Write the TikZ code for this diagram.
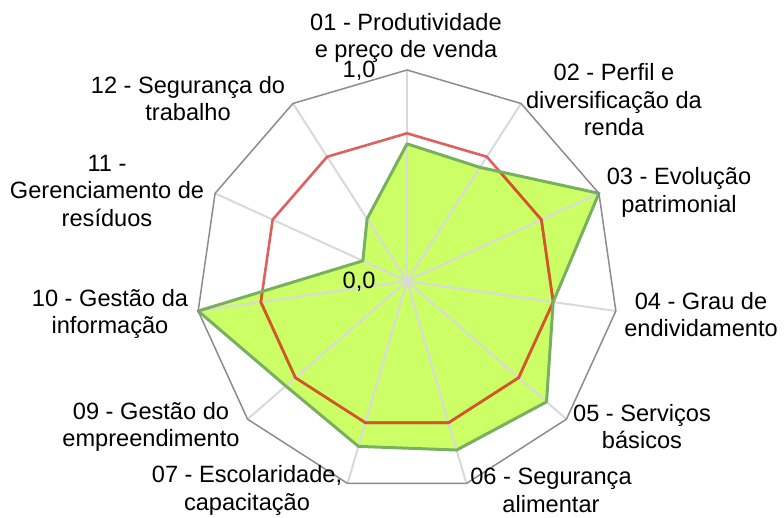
\documentclass[tikz,border=0pt]{standalone}
\usepackage{fontspec}
\setmainfont{Liberation Sans}

\definecolor{gridgray}{RGB}{140,140,140}
\definecolor{spokegray}{RGB}{217,217,217}
\definecolor{limefill}{RGB}{204,255,102}
\definecolor{limeedge}{RGB}{120,176,96}
\definecolor{refred}{RGB}{222,96,96}
\definecolor{refredover}{RGB}{208,88,36}

\tikzset{
  lbl/.style={align=center, font=\fontsize{23.6}{27.5}\selectfont},
  tick/.style={anchor=base east, font=\fontsize{23.6}{27.5}\selectfont},
  spoke/.style={spokegray, line width=2pt},
  outer/.style={gridgray, line width=1.5pt, line join=miter},
  target/.style={line width=2.6pt, line join=miter}
}

\begin{document}
\begin{tikzpicture}[x=1pt,y=1pt]
  % page frame, same size as the reference
  \useasboundingbox (0,0) rectangle (784,518);

  \begin{scope}[shift={(407,237)}]
    % axis ends and the result points
    \coordinate (c) at (0,0);
    \foreach \k in {0,...,10}
      \coordinate (v\k) at ({90-\k*360/11}:211);
    \foreach \k/\val in {0/0.65,1/0.64,2/1.0,3/0.70,4/0.875,5/0.835,
                         6/0.817,7/0.76,8/1.0,9/0.23,10/0.35}
      \coordinate (g\k) at ({90-\k*360/11}:211*\val);
    \foreach \k in {0,...,10}
      \coordinate (r\k) at ({90-\k*360/11}:211*0.7);

    % result area
    \fill[limefill] (g0) -- (g1) -- (g2) -- (g3) -- (g4) -- (g5) -- (g6)
      -- (g7) -- (g8) -- (g9) -- (g10) -- cycle;

    % spokes
    \foreach \k in {0,...,10}
      \draw[spoke] (c) -- (v\k);

    % reference level 0,7
    \draw[target, refred] (r0) -- (r1) -- (r2) -- (r3) -- (r4) -- (r5)
      -- (r6) -- (r7) -- (r8) -- (r9) -- (r10) -- cycle;
    \begin{scope}
      \clip (g0) -- (g1) -- (g2) -- (g3) -- (g4) -- (g5) -- (g6)
        -- (g7) -- (g8) -- (g9) -- (g10) -- cycle;
      \draw[target, refredover] (r0) -- (r1) -- (r2) -- (r3) -- (r4) -- (r5)
        -- (r6) -- (r7) -- (r8) -- (r9) -- (r10) -- cycle;
    \end{scope}

    % result border
    \draw[limeedge, line width=3pt, line join=round] (g0) -- (g1) -- (g2)
      -- (g3) -- (g4) -- (g5) -- (g6) -- (g7) -- (g8) -- (g9) -- (g10) -- cycle;

    % outer ring
    \draw[outer] (v0) -- (v1) -- (v2) -- (v3) -- (v4) -- (v5) -- (v6)
      -- (v7) -- (v8) -- (v9) -- (v10) -- cycle;
  \end{scope}

  % scale
  \node[tick] (max) at (379,440) {1,0};
  \node[tick] (min) at (379,229.5) {0,0};

  % axis names
  \node[lbl] (lbl01) at (406,480) {01 - Produtividade\\e preço de venda};
  \node[lbl] (lbl02) at (614,418) {02 - Perfil e\\diversificação da\\renda};
  \node[lbl] (lbl03) at (679,325.5) {03 - Evolução\\patrimonial};
  \node[lbl] (lbl04) at (701,203.5) {04 - Grau de\\endividamento};
  \node[lbl] (lbl05) at (642,91.5) {05 - Serviços\\básicos};
  \node[lbl] (lbl06) at (551,27.5) {06 - Segurança\\alimentar};
  \node[lbl] (lbl07) at (247,27.5) {07 - Escolaridade,\\capacitação};
  \node[lbl] (lbl09) at (151,91) {09 - Gestão do\\empreendimento};
  \node[lbl] (lbl10) at (110,204) {10 - Gestão da\\informação};
  \node[lbl] (lbl11) at (107,327) {11 -\\Gerenciamento de\\resíduos};
  \node[lbl] (lbl12) at (188,419.5) {12 - Segurança do\\trabalho};
\end{tikzpicture}
\end{document}
